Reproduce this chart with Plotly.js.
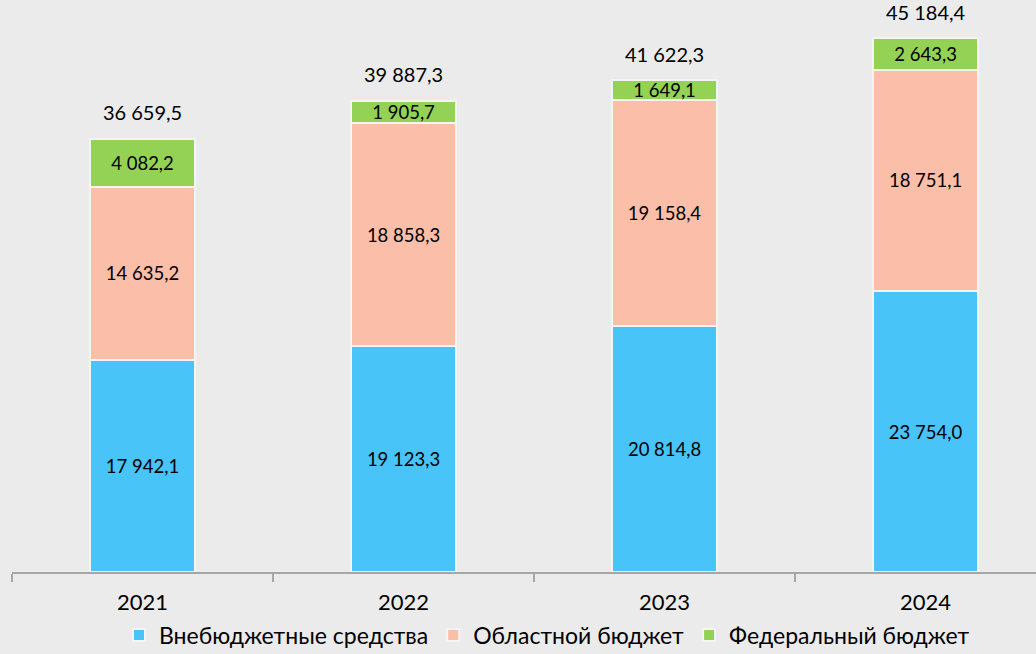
<!DOCTYPE html>
<html><head><meta charset="utf-8">
<script src="https://cdn.plot.ly/plotly-3.0.1.min.js"></script>
<style>html,body{margin:0;padding:0;background:#ebebeb;}#chart{width:1036px;height:654px;}</style>
</head><body><div id="chart"></div>
<script>
const years = ["2021", "2022", "2023", "2024"];
const extraBudget = [17942.1, 19123.3, 20814.8, 23754.0];
const regionalBudget = [14635.2, 18858.3, 19158.4, 18751.1];
const federalBudget = [4082.2, 1905.7, 1649.1, 2643.3];
const totals = [36659.5, 39887.3, 41622.3, 45184.4];
const seriesNames = ["Внебюджетные средства", "Областной бюджет", "Федеральный бюджет"];

function fmt(v){
  const parts = v.toFixed(1).split(".");
  return parts[0].replace(/\B(?=(\d{3})+(?!\d))/g, " ") + "," + parts[1];
}
const font = "Lato, 'Open Sans', sans-serif";
function bar(name, vals, color){
  return {
    type: "bar", name: name, x: years, y: vals,
    text: vals.map(fmt), textposition: "inside", insidetextanchor: "middle",
    textangle: 0, constraintext: "none",
    textfont: {family: font, size: 18.5, color: "#000"},
    marker: {color: color, line: {color: "#f4f4f4", width: 2}},
    width: 0.4, hoverinfo: "none"
  };
}
const data = [
  bar(seriesNames[0], extraBudget, "#48c4f8"),
  bar(seriesNames[1], regionalBudget, "#fbbea8"),
  bar(seriesNames[2], federalBudget, "#94d256"),
  {type: "scatter", mode: "text+markers", x: years, y: totals, text: totals.map(fmt),
   textposition: "top center", textfont: {family: font, size: 20, color: "#000"},
   marker: {size: 20, opacity: 0}, showlegend: false, hoverinfo: "none", cliponaxis: false}
];
const layout = {
  width: 1036, height: 654,
  margin: {l: 12, r: 0, t: 0, b: 82},
  paper_bgcolor: "#ebebeb", plot_bgcolor: "#ebebeb",
  barmode: "stack", separators: ", ",
  showlegend: true,
  legend: {orientation: "h", xref: "container", yref: "container", x: 0.528, xanchor: "center",
    y: 0.062, yanchor: "top",
    font: {family: font, size: 23, color: "#000"}, traceorder: "normal",
    itemwidth: 30, bgcolor: "rgba(0,0,0,0)"},
  xaxis: {type: "category", range: [-0.5, 3.423], showgrid: false,
    showline: true, linecolor: "#a6a6a6", linewidth: 1.5,
    ticks: "outside", tickson: "boundaries", ticklen: 8, tickcolor: "#a6a6a6", tickwidth: 1.5,
    ticklabelstandoff: 10,
    tickfont: {family: font, size: 22, color: "#000"}, fixedrange: true},
  yaxis: {range: [0, 48400], visible: false, showgrid: false, zeroline: false, fixedrange: true}
};
Plotly.newPlot("chart", data, layout, {displayModeBar: false, staticPlot: true});
</script></body></html>
